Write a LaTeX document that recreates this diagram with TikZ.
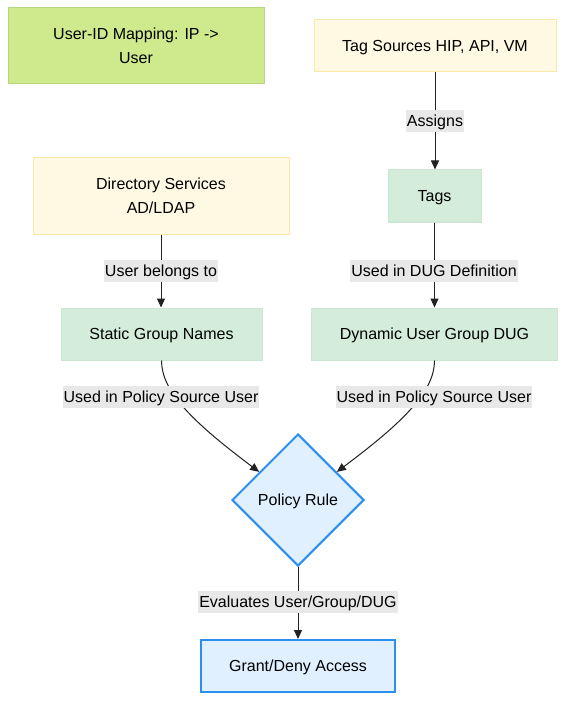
\documentclass[tikz,border=0pt]{standalone}
\usepackage{fontspec}
\setmainfont{Liberation Sans}
\usetikzlibrary{shapes.geometric,arrows.meta,calc}
\definecolor{ylwfill}{HTML}{FFF9E3}
\definecolor{ylwline}{HTML}{FBE9A8}
\definecolor{grnfill}{HTML}{D4EDDA}
\definecolor{grnline}{HTML}{CBE6D2}
\definecolor{limefill}{HTML}{CFEA8D}
\definecolor{limeline}{HTML}{B6D77C}
\definecolor{bluefill}{HTML}{E0F0FF}
\definecolor{blueline}{HTML}{2B8FF0}
\definecolor{lblfill}{HTML}{E8E8E8}
\definecolor{edgecol}{HTML}{222222}
\tikzset{
  base/.style={rectangle, inner sep=0pt, align=center, font=\fontsize{16}{24}\selectfont, text=black},
  oneline/.style={text height=15pt, text depth=3.4pt},
  yellowbox/.style={base, fill=ylwfill, draw=ylwline, line width=1pt},
  greenbox/.style={base, fill=grnfill, draw=grnline, line width=1pt},
  limebox/.style={base, fill=limefill, draw=limeline, line width=1pt},
  bluebox/.style={base, fill=bluefill, draw=blueline, line width=2pt},
  decision/.style={diamond, aspect=1, inner sep=0pt, minimum width=132pt, minimum height=132pt, fill=bluefill, draw=blueline, line width=2pt, font=\fontsize{16}{24}\selectfont, oneline},
  elabel/.style={fill=lblfill, inner xsep=1pt, inner ysep=0pt, text height=16.5pt, text depth=6pt, font=\fontsize{16}{24}\selectfont},
  conn/.style={draw=edgecol, line width=1pt, -{Triangle[length=9pt,width=8pt]}}
}
\begin{document}
\begin{tikzpicture}[x=1pt,y=-1pt]
\useasboundingbox (0,0) rectangle (574,711);
\node[limebox, minimum width=256pt, minimum height=76pt] (uid) at (136,46) {User-ID Mapping: IP ->\\User};
\node[yellowbox, oneline, minimum width=242pt, minimum height=52pt] (ts) at (435,46) {Tag Sources HIP, API, VM};
\node[yellowbox, minimum width=256pt, minimum height=76pt] (ds) at (161,196) {Directory Services\\AD/LDAP};
\node[greenbox, oneline, minimum width=93pt, minimum height=52pt] (tags) at (434.5,196) {Tags};
\node[greenbox, oneline, minimum width=201pt, minimum height=52pt] (sg) at (161.5,334) {Static Group Names};
\node[greenbox, oneline, minimum width=246pt, minimum height=52pt] (dug) at (434.5,334) {Dynamic User Group DUG};
\node[decision] (pr) at (298,500) {Policy Rule};
\node[bluebox, oneline, minimum width=194pt, minimum height=52pt] (gd) at (298,666) {Grant/Deny Access};

\coordinate (prl) at ($(pr.north)!0.58!(pr.west)$);
\coordinate (prr) at ($(pr.north)!0.58!(pr.east)$);

\draw[conn] (ts.south) -- (ts.south |- tags.north);
\draw[conn] (ds.south) -- (ds.south |- sg.north);
\draw[conn] (tags.south) -- (tags.south |- dug.north);
\draw[conn] (sg.south) .. controls ($(sg.south)+(0,30)$) and ($(sg.south)+(29,60)$) .. (prl);
\draw[conn] (dug.south) .. controls ($(dug.south)+(0,30)$) and ($(dug.south)+(-29,60)$) .. (prr);
\draw[conn] (pr.south) -- (pr.south |- gd.north);

\node[elabel] (l1) at (435,121) {Assigns};
\node[elabel] (l2) at (161,271) {User belongs to};
\node[elabel] (l3) at (434,271) {Used in DUG Definition};
\node[elabel] (l4) at (161,397) {Used in Policy Source User};
\node[elabel] (l5) at (434,397) {Used in Policy Source User};
\node[elabel] (l6) at (298,602) {Evaluates User/Group/DUG};
\end{tikzpicture}
\end{document}
